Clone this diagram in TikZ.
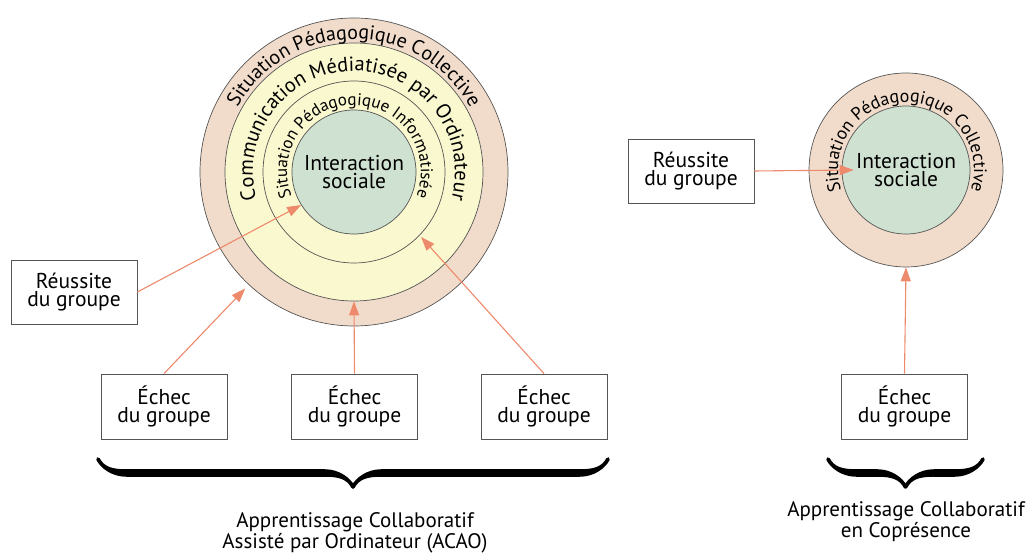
\documentclass[tikz,border=0pt]{standalone}
\usepackage{fontspec}
\setmainfont{PT Sans}
\usetikzlibrary{arrows.meta,decorations.text,decorations.pathreplacing,calligraphy}

\definecolor{ringpink}{RGB}{241,220,203}
\definecolor{ringyellow}{RGB}{250,248,206}
\definecolor{coregreen}{RGB}{207,225,208}
\definecolor{arrowsalmon}{RGB}{238,138,108}
\definecolor{edgegray}{RGB}{85,85,85}

\newcommand{\boxfont}{\fontsize{21.5}{18.5}\selectfont}
\newcommand{\capfont}{\fontsize{21}{21}\selectfont}

\begin{document}
\begin{tikzpicture}[x=1pt,y=1pt]
\useasboundingbox (0,0) rectangle (1031,556);
\tikzstyle{ring}=[circle, draw=edgegray, line width=0.7pt, inner sep=0pt]
\tikzstyle{gbox}=[rectangle, draw=edgegray, line width=0.8pt,
  minimum width=126pt, minimum height=64pt, align=center, font=\boxfont]
\tikzstyle{arr}=[draw=arrowsalmon, line width=1.1pt,
  -{Triangle[length=14pt,width=10pt]}]
\tikzstyle{hbrace}=[decorate, decoration={calligraphic brace, amplitude=28pt},
  line width=7.5pt, pen colour=black]

\node[ring, fill=ringpink, minimum size=308pt] (o1) at (354,384) {};
\node[ring, fill=ringyellow, minimum size=258pt] (m1) at (354,384) {};
\node[ring, fill=ringyellow, minimum size=182pt] (s1) at (354,384) {};
\node[ring, fill=coregreen, minimum size=124pt, align=center, font=\boxfont]
  (g1) at (354,384) {Interaction\\sociale};

\path[decorate, decoration={text along path, text align=center,
  text={|\fontsize{20}{20}\selectfont|Situation Pédagogique Collective}}]
  ([shift={(180:133)}]o1.center) arc[start angle=180, end angle=0, radius=133];
\path[decorate, decoration={text along path, text align=center,
  text={|\fontsize{20.5}{20.5}\selectfont|Communication Médiatisée par Ordinateur}}]
  ([shift={(210:101)}]m1.center) arc[start angle=210, end angle=-30, radius=101];
\path[decorate, decoration={text along path, text align=center,
  text={|\fontsize{17}{17}\selectfont|Situation Pédagogique Informatisée}}]
  ([shift={(225:67)}]s1.center) arc[start angle=225, end angle=-45, radius=67];

\node[ring, fill=ringpink, minimum size=194pt] (o2) at (906,386) {};
\node[ring, fill=coregreen, minimum size=128pt, align=center, font=\boxfont]
  (g2) at (906,386) {Interaction\\sociale};
\path[decorate, decoration={text along path, text align=center,
  text={|\fontsize{18}{18}\selectfont|Situation Pédagogique Collective}}]
  ([shift={(225:68)}]o2.center) arc[start angle=225, end angle=-45, radius=68];

\node[gbox] (rl) at (74,264) {Réussite\\du groupe};
\node[gbox] (rr) at (691,385) {Réussite\\du groupe};
\node[gbox, minimum height=65pt] (e1) at (164,149.5) {Échec\\du groupe};
\node[gbox, minimum height=65pt] (e2) at (354.5,149.5) {Échec\\du groupe};
\node[gbox, minimum height=65pt] (e3) at (544,149.5) {Échec\\du groupe};
\node[gbox, minimum height=65pt] (e4) at (904.5,149.5) {Échec\\du groupe};

\coordinate (g2tip) at ([xshift=12pt]g2.west);
\draw[arr] (rl.east) -- (g1.212);
\draw[arr, shorten >=5pt] (e1.north) -- (o1.227);
\draw[arr] (e2.north) -- (m1.south);
\draw[arr, shorten >=2pt] (e3.north) -- (s1.316);
\draw[arr] (rr.east) -- (g2tip);
\draw[arr] (e4.north) -- (o2.south);

\coordinate (bl1) at (98,97);
\coordinate (bl2) at (608,97);
\coordinate (br1) at (828,97);
\coordinate (br2) at (983,97);
\draw[hbrace] (bl2) -- (bl1);
\draw[hbrace] (br2) -- (br1);

\node[align=center, font=\capfont] (acao) at (355,23)
  {Apprentissage Collaboratif\\Assisté par Ordinateur (ACAO)};
\node[align=center, font=\capfont] (acc) at (906,34)
  {Apprentissage Collaboratif\\en Coprésence};
\end{tikzpicture}
\end{document}
